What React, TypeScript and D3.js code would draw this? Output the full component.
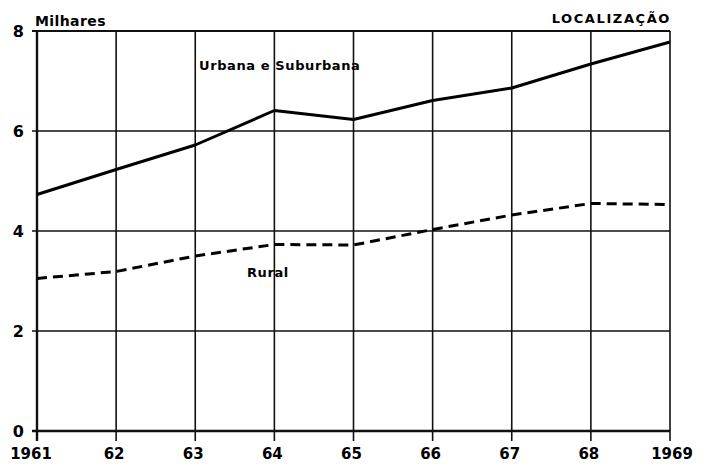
import { useEffect, useRef } from "react";
import * as d3 from "d3";

const years = [1961, 1962, 1963, 1964, 1965, 1966, 1967, 1968, 1969];
const yearLabels = ["1961", "62", "63", "64", "65", "66", "67", "68", "1969"];
const urbana = [4.73, 5.23, 5.72, 6.41, 6.23, 6.61, 6.86, 7.34, 7.78];
const rural = [3.05, 3.19, 3.5, 3.73, 3.72, 4.03, 4.32, 4.55, 4.53];
const yTicks = [0, 2, 4, 6, 8];

export default function App() {
  const ref = useRef<SVGSVGElement | null>(null);

  useEffect(() => {
    if (!ref.current) return;

    const width = 704;
    const height = 464;
    const font = "'DejaVu Sans', sans-serif";

    d3.select(ref.current).selectAll("*").remove();

    const svg = d3
      .select(ref.current)
      .attr("width", width)
      .attr("height", height)
      .style("background", "#fff");

    const x = d3.scaleLinear().domain([1961, 1969]).range([37, 670]);
    const y = d3.scaleLinear().domain([0, 8]).range([431, 31]);

    // grid
    const grid = svg.append("g").attr("stroke", "#111").attr("stroke-width", 1.6);
    years.forEach((yr) => {
      grid
        .append("line")
        .attr("x1", x(yr))
        .attr("x2", x(yr))
        .attr("y1", y(8))
        .attr("y2", y(0) + 10);
    });
    yTicks.forEach((t) => {
      grid
        .append("line")
        .attr("x1", x(1961) - 5)
        .attr("x2", x(1969))
        .attr("y1", y(t))
        .attr("y2", y(t));
    });
    // heavier axis / frame
    grid
      .append("line")
      .attr("x1", x(1961))
      .attr("x2", x(1961))
      .attr("y1", y(8))
      .attr("y2", y(0) + 10)
      .attr("stroke-width", 2.4);
    grid
      .append("line")
      .attr("x1", x(1961) - 5)
      .attr("x2", x(1969))
      .attr("y1", y(0))
      .attr("y2", y(0))
      .attr("stroke-width", 2.4);
    grid
      .append("line")
      .attr("x1", x(1961) - 5)
      .attr("x2", x(1969))
      .attr("y1", y(8))
      .attr("y2", y(8))
      .attr("stroke-width", 2.2);

    // tick labels
    svg
      .append("g")
      .selectAll("text")
      .data(yTicks)
      .join("text")
      .attr("x", 24)
      .attr("y", (d) => y(d) + 6)
      .attr("text-anchor", "end")
      .attr("font-family", font)
      .attr("font-weight", "bold")
      .attr("font-size", 16)
      .text((d) => d);

    svg
      .append("g")
      .selectAll("text")
      .data(years)
      .join("text")
      .attr("x", (d, i) => x(d) + (i === 0 ? -6 : i === years.length - 1 ? 2 : -2))
      .attr("y", 459)
      .attr("text-anchor", "middle")
      .attr("font-family", font)
      .attr("font-weight", "bold")
      .attr("font-size", 15)
      .text((d, i) => yearLabels[i]);

    const line = d3
      .line<number>()
      .x((d, i) => x(years[i]))
      .y((d) => y(d));

    svg
      .append("path")
      .datum(urbana)
      .attr("fill", "none")
      .attr("stroke", "#000")
      .attr("stroke-width", 3)
      .attr("stroke-linejoin", "round")
      .attr("d", line);

    svg
      .append("path")
      .datum(rural)
      .attr("fill", "none")
      .attr("stroke", "#000")
      .attr("stroke-width", 3)
      .attr("stroke-dasharray", "10,6")
      .attr("d", line);

    const label = (txt: string, lx: number, ly: number, anchor = "start", size = 13, ls = 0.6) =>
      svg
        .append("text")
        .attr("x", lx)
        .attr("y", ly)
        .attr("text-anchor", anchor)
        .attr("font-family", font)
        .attr("font-weight", "bold")
        .attr("font-size", size)
        .attr("letter-spacing", ls)
        .text(txt);

    label("Milhares", 35, 26, "start", 14, 0.4);
    label("LOCALIZAÇÃO", 671, 23, "end", 13, 1.6);
    label("Urbana e Suburbana", 199, 70);
    label("Rural", 247, 277);
  }, []);

  return (
    <svg
      ref={ref}
      style={{ position: "absolute", left: 0, top: 0, display: "block" }}
    />
  );
}
